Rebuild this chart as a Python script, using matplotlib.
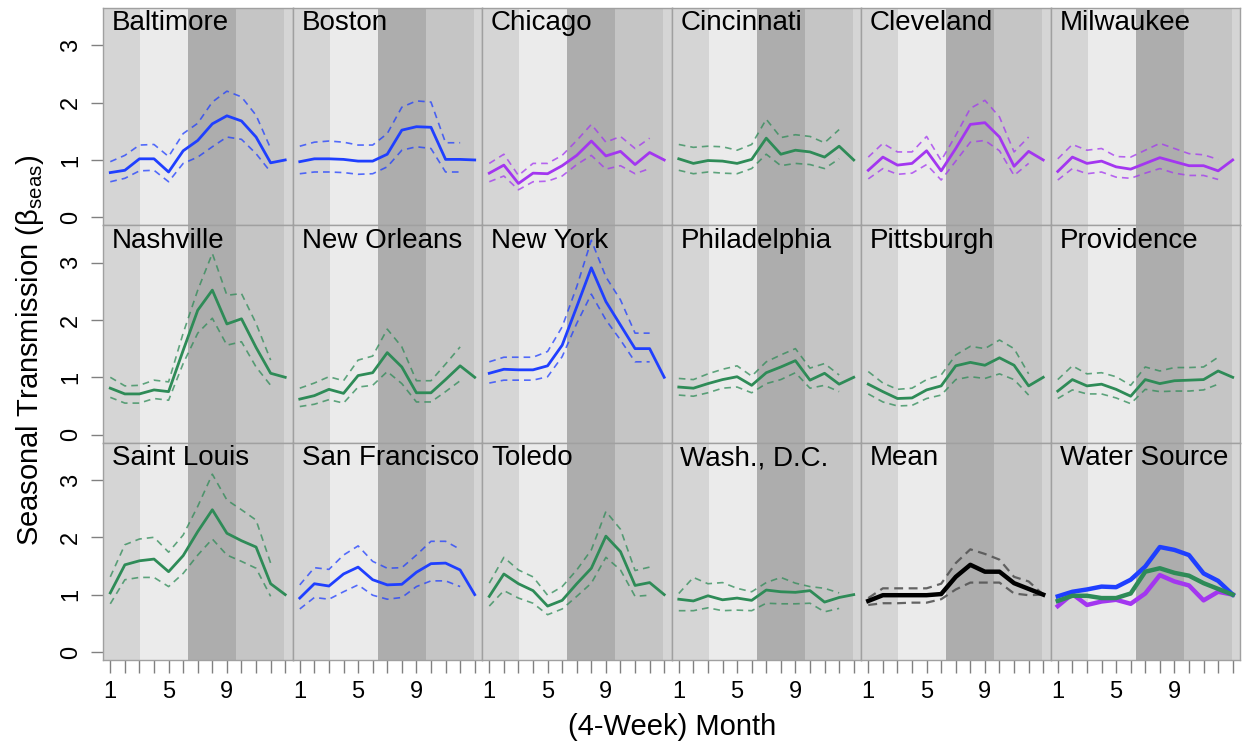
import numpy as np
import matplotlib.pyplot as plt

plt.rcParams['font.family'] = ['Liberation Sans', 'DejaVu Sans']
plt.rcParams['mathtext.fontset'] = 'custom'
plt.rcParams['mathtext.rm'] = 'Liberation Sans'
plt.rcParams['mathtext.it'] = 'Liberation Sans:italic'

mes = np.arange(1, 14)          # meses de 4 semanas
mes_ic = np.arange(1, 13)       # los intervalos llegan hasta el mes 12

# Valores (linea central, limite superior, limite inferior)
baltimore = [0.78, 0.82, 1.02, 1.02, 0.79, 1.16, 1.34, 1.63, 1.77, 1.68, 1.40, 0.95, 1.0]
baltimore_sup = [0.97, 1.08, 1.26, 1.27, 1.06, 1.46, 1.64, 2.01, 2.20, 2.10, 1.78, 1.20]
baltimore_inf = [0.62, 0.68, 0.81, 0.82, 0.62, 0.94, 1.05, 1.23, 1.40, 1.36, 1.11, 0.79]

boston = [0.97, 1.02, 1.02, 1.01, 0.98, 0.98, 1.10, 1.52, 1.58, 1.57, 1.01, 1.01, 1.0]
boston_sup = [1.24, 1.31, 1.33, 1.31, 1.26, 1.26, 1.46, 1.92, 2.03, 2.01, 1.30, 1.30]
boston_inf = [0.76, 0.79, 0.79, 0.78, 0.75, 0.76, 0.88, 1.17, 1.23, 1.20, 0.79, 0.79]

chicago = [0.77, 0.91, 0.59, 0.77, 0.76, 0.90, 1.08, 1.33, 1.07, 1.15, 0.92, 1.13, 1.0]
chicago_sup = [0.94, 1.10, 0.73, 0.94, 0.94, 1.08, 1.34, 1.62, 1.31, 1.41, 1.20, 1.38]
chicago_inf = [0.62, 0.72, 0.48, 0.62, 0.63, 0.72, 0.92, 1.08, 0.84, 0.90, 0.76, 0.85]

cincinnati = [1.02, 0.94, 0.99, 0.98, 0.94, 1.01, 1.38, 1.10, 1.17, 1.14, 1.05, 1.24, 1.0]
cincinnati_sup = [1.27, 1.22, 1.24, 1.23, 1.17, 1.27, 1.71, 1.39, 1.44, 1.41, 1.30, 1.53]
cincinnati_inf = [0.82, 0.76, 0.79, 0.77, 0.76, 0.85, 1.10, 0.90, 0.94, 0.92, 0.85, 1.02]

cleveland = [0.82, 1.05, 0.91, 0.94, 1.16, 0.81, 1.20, 1.62, 1.65, 1.40, 0.89, 1.15, 1.0]
cleveland_sup = [1.05, 1.29, 1.14, 1.14, 1.41, 0.99, 1.43, 1.90, 2.04, 1.75, 1.14, 1.40]
cleveland_inf = [0.67, 0.85, 0.75, 0.77, 0.92, 0.65, 0.98, 1.31, 1.34, 1.16, 0.73, 0.94]

milwaukee = [0.80, 1.05, 0.94, 0.98, 0.88, 0.84, 0.94, 1.04, 0.97, 0.90, 0.90, 0.81, 1.0]
milwaukee_sup = [1.02, 1.27, 1.17, 1.20, 1.06, 1.05, 1.17, 1.29, 1.20, 1.11, 1.09, 1.01]
milwaukee_inf = [0.65, 0.85, 0.76, 0.79, 0.70, 0.68, 0.77, 0.85, 0.77, 0.73, 0.73, 0.66]

nashville = [0.81, 0.71, 0.71, 0.78, 0.75, 1.47, 2.17, 2.52, 1.93, 2.02, 1.52, 1.07, 1.0]
nashville_sup = [1.00, 0.85, 0.86, 0.95, 0.92, 1.77, 2.52, 3.16, 2.43, 2.46, 1.94, 1.30]
nashville_inf = [0.65, 0.55, 0.55, 0.63, 0.60, 1.24, 1.77, 2.03, 1.56, 1.62, 1.18, 0.86]

new_orleans = [0.62, 0.68, 0.79, 0.72, 1.03, 1.08, 1.43, 1.18, 0.73, 0.73, 0.96, 1.20, 1.0]
new_orleans_sup = [0.81, 0.90, 1.01, 0.94, 1.30, 1.37, 1.84, 1.53, 0.94, 0.94, 1.23, 1.53]
new_orleans_inf = [0.49, 0.53, 0.61, 0.55, 0.83, 0.86, 1.10, 0.89, 0.57, 0.57, 0.75, 0.94]

new_york = [1.07, 1.14, 1.13, 1.13, 1.20, 1.56, 2.23, 2.91, 2.32, 1.91, 1.50, 1.50, 1.0]
new_york_sup = [1.27, 1.35, 1.35, 1.35, 1.45, 1.88, 2.58, 3.39, 2.75, 2.35, 1.77, 1.77]
new_york_inf = [0.90, 0.95, 0.95, 0.95, 1.01, 1.36, 1.94, 2.45, 2.00, 1.65, 1.27, 1.27]

philadelphia = [0.83, 0.81, 0.89, 0.96, 1.01, 0.86, 1.08, 1.18, 1.29, 0.95, 1.07, 0.88, 1.0]
philadelphia_sup = [0.98, 0.96, 1.06, 1.14, 1.20, 1.02, 1.27, 1.39, 1.50, 1.16, 1.24, 1.04]
philadelphia_inf = [0.69, 0.67, 0.73, 0.81, 0.83, 0.73, 0.89, 0.96, 1.08, 0.81, 0.86, 0.75]

pittsburgh = [0.88, 0.75, 0.63, 0.64, 0.78, 0.85, 1.20, 1.26, 1.21, 1.34, 1.21, 0.85, 1.0]
pittsburgh_sup = [1.10, 0.90, 0.79, 0.81, 0.96, 1.04, 1.39, 1.54, 1.50, 1.65, 1.50, 1.06]
pittsburgh_inf = [0.71, 0.57, 0.50, 0.51, 0.63, 0.69, 0.96, 1.01, 0.98, 1.06, 0.96, 0.69]

providence = [0.76, 0.96, 0.85, 0.88, 0.79, 0.67, 0.96, 0.89, 0.94, 0.95, 0.96, 1.11, 1.0]
providence_sup = [0.96, 1.20, 1.06, 1.08, 1.01, 0.86, 1.18, 1.11, 1.17, 1.17, 1.18, 1.35]
providence_inf = [0.63, 0.78, 0.71, 0.71, 0.64, 0.54, 0.79, 0.75, 0.76, 0.76, 0.78, 0.88]

saint_louis = [1.03, 1.52, 1.59, 1.62, 1.40, 1.68, 2.10, 2.48, 2.07, 1.94, 1.83, 1.19, 1.0]
saint_louis_sup = [1.31, 1.87, 1.97, 2.00, 1.74, 2.04, 2.54, 3.10, 2.65, 2.48, 2.30, 1.55]
saint_louis_inf = [0.84, 1.26, 1.30, 1.30, 1.14, 1.37, 1.69, 1.97, 1.69, 1.58, 1.46, 0.97]

san_francisco = [0.94, 1.19, 1.15, 1.36, 1.48, 1.26, 1.17, 1.18, 1.39, 1.54, 1.55, 1.43, 1.0]
san_francisco_sup = [1.17, 1.47, 1.44, 1.69, 1.85, 1.58, 1.46, 1.47, 1.69, 1.93, 1.93, 1.79]
san_francisco_inf = [0.75, 0.95, 0.92, 1.05, 1.17, 0.99, 0.92, 0.95, 1.14, 1.24, 1.24, 1.14]

toledo = [0.97, 1.36, 1.19, 1.07, 0.80, 0.90, 1.19, 1.46, 2.02, 1.75, 1.16, 1.21, 1.0]
toledo_sup = [1.20, 1.65, 1.43, 1.31, 0.99, 1.14, 1.43, 1.78, 2.45, 2.14, 1.42, 1.48]
toledo_inf = [0.80, 1.07, 0.94, 0.85, 0.65, 0.75, 0.97, 1.20, 1.65, 1.43, 0.97, 0.99]

washington = [0.92, 0.89, 0.98, 0.91, 0.94, 0.90, 1.08, 1.05, 1.04, 1.07, 0.87, 0.95, 1.0]
washington_sup = [1.02, 1.30, 1.19, 1.21, 1.11, 1.05, 1.21, 1.30, 1.20, 1.14, 1.11, 1.03]
washington_inf = [0.72, 0.72, 0.77, 0.72, 0.73, 0.72, 0.85, 0.84, 0.84, 0.85, 0.70, 0.76]

media = [0.89, 0.99, 0.99, 0.99, 0.99, 1.01, 1.31, 1.52, 1.40, 1.40, 1.20, 1.10, 1.0]
media_sup = [0.94, 1.11, 1.11, 1.11, 1.11, 1.19, 1.55, 1.79, 1.71, 1.61, 1.31, 1.23, 1.0]
media_inf = [0.82, 0.85, 0.85, 0.86, 0.86, 0.92, 1.09, 1.21, 1.21, 1.21, 1.02, 0.99, 1.0]

# Fuente de agua (promedios por grupo)
agua_azul = [0.97, 1.05, 1.09, 1.14, 1.13, 1.26, 1.49, 1.83, 1.78, 1.69, 1.37, 1.24, 1.0]
agua_verde = [0.89, 0.98, 0.98, 0.94, 0.94, 1.02, 1.40, 1.46, 1.38, 1.33, 1.20, 1.10, 1.0]
agua_morado = [0.80, 1.01, 0.82, 0.88, 0.91, 0.84, 1.02, 1.34, 1.23, 1.16, 0.90, 1.05, 1.0]

# Estaciones (bordes en meses) y sus grises
bordes = [0.5, 3.05, 6.35, 9.65, 12.95, 13.5]
grises = ['#d5d5d5', '#ebebeb', '#adadad', '#c5c5c5', '#d5d5d5']

azul = '#1f3fff'
morado = '#a336f0'
verde = '#2e8b57'

ciudades = [
    ('Baltimore', baltimore, baltimore_sup, baltimore_inf, azul),
    ('Boston', boston, boston_sup, boston_inf, azul),
    ('Chicago', chicago, chicago_sup, chicago_inf, morado),
    ('Cincinnati', cincinnati, cincinnati_sup, cincinnati_inf, verde),
    ('Cleveland', cleveland, cleveland_sup, cleveland_inf, morado),
    ('Milwaukee', milwaukee, milwaukee_sup, milwaukee_inf, morado),
    ('Nashville', nashville, nashville_sup, nashville_inf, verde),
    ('New Orleans', new_orleans, new_orleans_sup, new_orleans_inf, verde),
    ('New York', new_york, new_york_sup, new_york_inf, azul),
    ('Philadelphia', philadelphia, philadelphia_sup, philadelphia_inf, verde),
    ('Pittsburgh', pittsburgh, pittsburgh_sup, pittsburgh_inf, verde),
    ('Providence', providence, providence_sup, providence_inf, verde),
    ('Saint Louis', saint_louis, saint_louis_sup, saint_louis_inf, verde),
    ('San Francisco', san_francisco, san_francisco_sup, san_francisco_inf, azul),
    ('Toledo', toledo, toledo_sup, toledo_inf, verde),
    ('Wash., D.C.', washington, washington_sup, washington_inf, verde),
]

fig, axs = plt.subplots(3, 6, figsize=(12.42, 7.44), dpi=100)
fig.subplots_adjust(left=103/1242, right=1240/1242, top=1-8/744, bottom=1-660/744,
                    wspace=0, hspace=0)

for i, ax in enumerate(axs.flat):
    fila, col = divmod(i, 6)
    for k in range(5):
        ax.axvspan(bordes[k], bordes[k+1], color=grises[k], lw=0, zorder=0)
    ax.set_xlim(0.5, 13.5)
    ax.set_ylim(-0.14, 3.65)
    for s in ax.spines.values():
        s.set_color('#a0a0a0')
        s.set_linewidth(1)
    ax.tick_params(colors='#808080', length=9, width=1, labelcolor='black',
                   labelsize=17)
    if fila == 2:
        ax.set_xticks(mes)
        ax.set_xticklabels(['1', '', '', '', '5', '', '', '', '9', '', '', '', ''])
        ax.tick_params(axis='x', pad=6)
    else:
        ax.set_xticks([])
    if col == 0:
        ax.set_yticks([0, 1, 2, 3])
        ax.set_yticklabels(['0', '1', '2', '3'])
        ax.tick_params(axis='y', pad=6)
        for lab in ax.get_yticklabels():
            lab.set_rotation(90)
            lab.set_va('center')
    else:
        ax.set_yticks([])

    if i < 16:
        nombre, y, sup, inf, c = ciudades[i]
        ax.plot(mes_ic, sup, color=c, lw=1.2, ls=(0, (4, 3)), alpha=0.75)
        ax.plot(mes_ic, inf, color=c, lw=1.2, ls=(0, (4, 3)), alpha=0.75)
        ax.plot(mes, y, color=c, lw=2.0)
    elif i == 16:
        nombre = 'Mean'
        ax.plot(mes, media_sup, color='#555555', lw=1.6, ls=(0, (4, 2.5)), alpha=0.9)
        ax.plot(mes, media_inf, color='#555555', lw=1.6, ls=(0, (4, 2.5)), alpha=0.9)
        ax.plot(mes, media, color='black', lw=3.2)
    else:
        nombre = 'Water Source'
        ax.plot(mes, agua_morado, color=morado, lw=3.2)
        ax.plot(mes, agua_azul, color=azul, lw=3.2)
        ax.plot(mes, agua_verde, color=verde, lw=3.2)

    ax.text(9/189.5, 1 - 22.5/217.5, nombre, transform=ax.transAxes,
            fontsize=20, ha='left', va='baseline')

fig.text(30/1242, 1 - 350/744, 'Seasonal Transmission (β$_{\\mathrm{seas}}$)',
         rotation=90, ha='center', va='center', fontsize=21)
fig.text(672/1242, 1 - 727/744, '(4-Week) Month', ha='center', va='center', fontsize=21)

fig.savefig('out.png', dpi=100)
